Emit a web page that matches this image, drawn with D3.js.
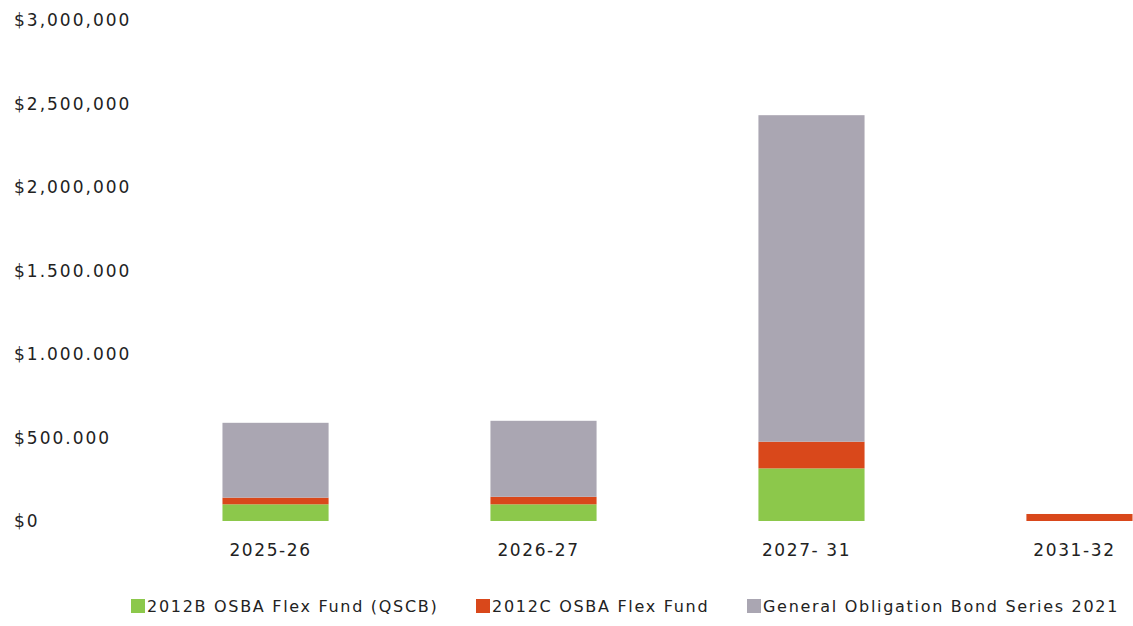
<!DOCTYPE html>
<html>
<head>
<meta charset="utf-8">
<script src="https://d3js.org/d3.v7.min.js"></script>
<style>
  body { margin: 0; background: #fff; }
  text { font-family: "DejaVu Sans", sans-serif; fill: #222; }
</style>
</head>
<body>
<svg id="chart"></svg>
<script>
    // values
    var categories = ["2025-26", "2026-27", "2027- 31", "2031-32"];
    var seriesNames = ["2012B OSBA Flex Fund (QSCB)", "2012C OSBA Flex Fund", "General Obligation Bond  Series 2021"];
    var qscb = [100000, 100000, 315000, 0];
    var flex2012c = [40000, 45000, 160000, 42000];
    var goBond = [448000, 455000, 1955000, 0];
    var yTicks = [0, 500000, 1000000, 1500000, 2000000, 2500000, 3000000];
    var yTickLabels = ["$0", "$500.000", "$1.000.000", "$1.500.000", "$2,000,000", "$2,500,000", "$3,000,000"];
    var colors = ["#8cc84b", "#d9481b", "#aaa6b2"];

    var w = 1133, h = 626;

    var svg = d3.select("#chart")
        .attr("width", w)
        .attr("height", h);

    var rows = categories.map(function(c, i) {
        return {cat: c, s0: qscb[i], s1: flex2012c[i], s2: goBond[i]};
    });

    var stack = d3.stack().keys(["s0", "s1", "s2"]);
    var layers = stack(rows);

    var x = d3.scaleBand()
        .domain(categories)
        .range([100, 1255])
        .paddingInner(0.604)
        .paddingOuter(0.457);

    var y = d3.scaleLinear()
        .domain([0, 3000000])
        .range([521, 20]);

    // y labels, left aligned like the scan
    svg.append("g")
        .selectAll("text")
        .data(yTicks)
        .enter()
        .append("text")
        .attr("x", 14)
        .attr("y", function(d) { return y(d); })
        .attr("dy", "0.36em")
        .attr("font-size", 17)
        .attr("letter-spacing", "2px")
        .text(function(d, i) { return yTickLabels[i]; });

    svg.append("g")
        .selectAll("g")
        .data(layers)
        .enter()
        .append("g")
        .attr("fill", function(d, i) { return colors[i]; })
        .selectAll("rect")
        .data(function(d) { return d; })
        .enter()
        .append("rect")
        .attr("x", function(d) { return x(d.data.cat); })
        .attr("width", x.bandwidth())
        .attr("y", function(d) { return y(d[1]); })
        .attr("height", function(d) { return y(d[0]) - y(d[1]); });

    // category labels
    var xAxis = svg.append("g")
        .attr("transform", "translate(-5,536)")
        .call(d3.axisBottom(x).tickSize(0).tickPadding(8));
    xAxis.select(".domain").remove();
    xAxis.selectAll("text")
        .attr("font-size", 17)
        .attr("letter-spacing", "1.6px")
        .style("font-family", "DejaVu Sans")
        .attr("fill", "#222");

    // legend
    var legendX = [131, 476, 747];
    var lg = svg.append("g")
        .selectAll("g")
        .data(seriesNames)
        .enter()
        .append("g")
        .attr("transform", function(d, i) { return "translate(" + legendX[i] + ",599)"; });
    lg.append("rect")
        .attr("width", 14)
        .attr("height", 14)
        .attr("fill", function(d, i) { return colors[i]; });
    lg.append("text")
        .attr("x", 16)
        .attr("y", 7)
        .attr("dy", "0.36em")
        .attr("font-size", 16)
        .attr("letter-spacing", "1.7px")
        .text(function(d) { return d; });
</script>
</body>
</html>
